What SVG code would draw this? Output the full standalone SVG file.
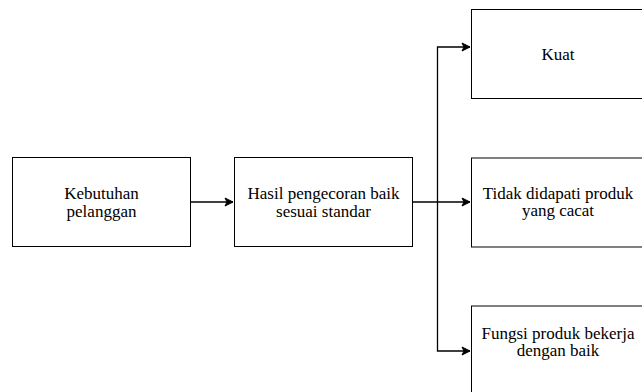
<svg xmlns="http://www.w3.org/2000/svg" width="642" height="392" viewBox="0 0 642 392">
<defs>
<marker id="arr" markerWidth="10" markerHeight="10" refX="9" refY="5" orient="auto" markerUnits="userSpaceOnUse">
<path d="M1,1 L9,5 L1,9 L3,5 Z" fill="#000" stroke="#000" stroke-width="1"/>
</marker>
</defs>
<rect width="642" height="392" fill="#fff"/>
<g id="connectors" fill="none" stroke="#000" stroke-width="1.3">
<path d="M190.5,202 H233" marker-end="url(#arr)"/>
<path d="M412.5,202 H470" marker-end="url(#arr)"/>
<path d="M437.5,202 V47 H470" marker-end="url(#arr)"/>
<path d="M437.5,202 V351 H470" marker-end="url(#arr)"/>
</g>
<g id="n1">
<rect x="12.5" y="157.5" width="178" height="89" fill="#fff" stroke="#000"/>
<text x="101.5" y="199" font-family="Liberation Serif" font-size="17" text-anchor="middle">Kebutuhan</text>
<text x="101.5" y="216.5" font-family="Liberation Serif" font-size="17" text-anchor="middle">pelanggan</text>
</g>
<g id="n2">
<rect x="234.5" y="157.5" width="178" height="89" fill="#fff" stroke="#000"/>
<text x="323.5" y="199" font-family="Liberation Serif" font-size="17" text-anchor="middle">Hasil pengecoran baik</text>
<text x="323.5" y="216.5" font-family="Liberation Serif" font-size="17" text-anchor="middle">sesuai standar</text>
</g>
<g id="n3">
<rect x="471.5" y="9.5" width="174" height="89" fill="#fff" stroke="#000"/>
<text x="558" y="59.5" font-family="Liberation Serif" font-size="17" text-anchor="middle">Kuat</text>
</g>
<g id="n4">
<rect x="471.5" y="158" width="174" height="89" fill="#fff" stroke="#000"/>
<text x="558" y="198.5" font-family="Liberation Serif" font-size="17" text-anchor="middle">Tidak didapati produk</text>
<text x="558" y="216" font-family="Liberation Serif" font-size="17" text-anchor="middle">yang cacat</text>
</g>
<g id="n5">
<rect x="471.5" y="306" width="174" height="89" fill="#fff" stroke="#000"/>
<text x="558" y="338.5" font-family="Liberation Serif" font-size="17" text-anchor="middle">Fungsi produk bekerja</text>
<text x="558" y="356" font-family="Liberation Serif" font-size="17" text-anchor="middle">dengan baik</text>
</g>
</svg>
